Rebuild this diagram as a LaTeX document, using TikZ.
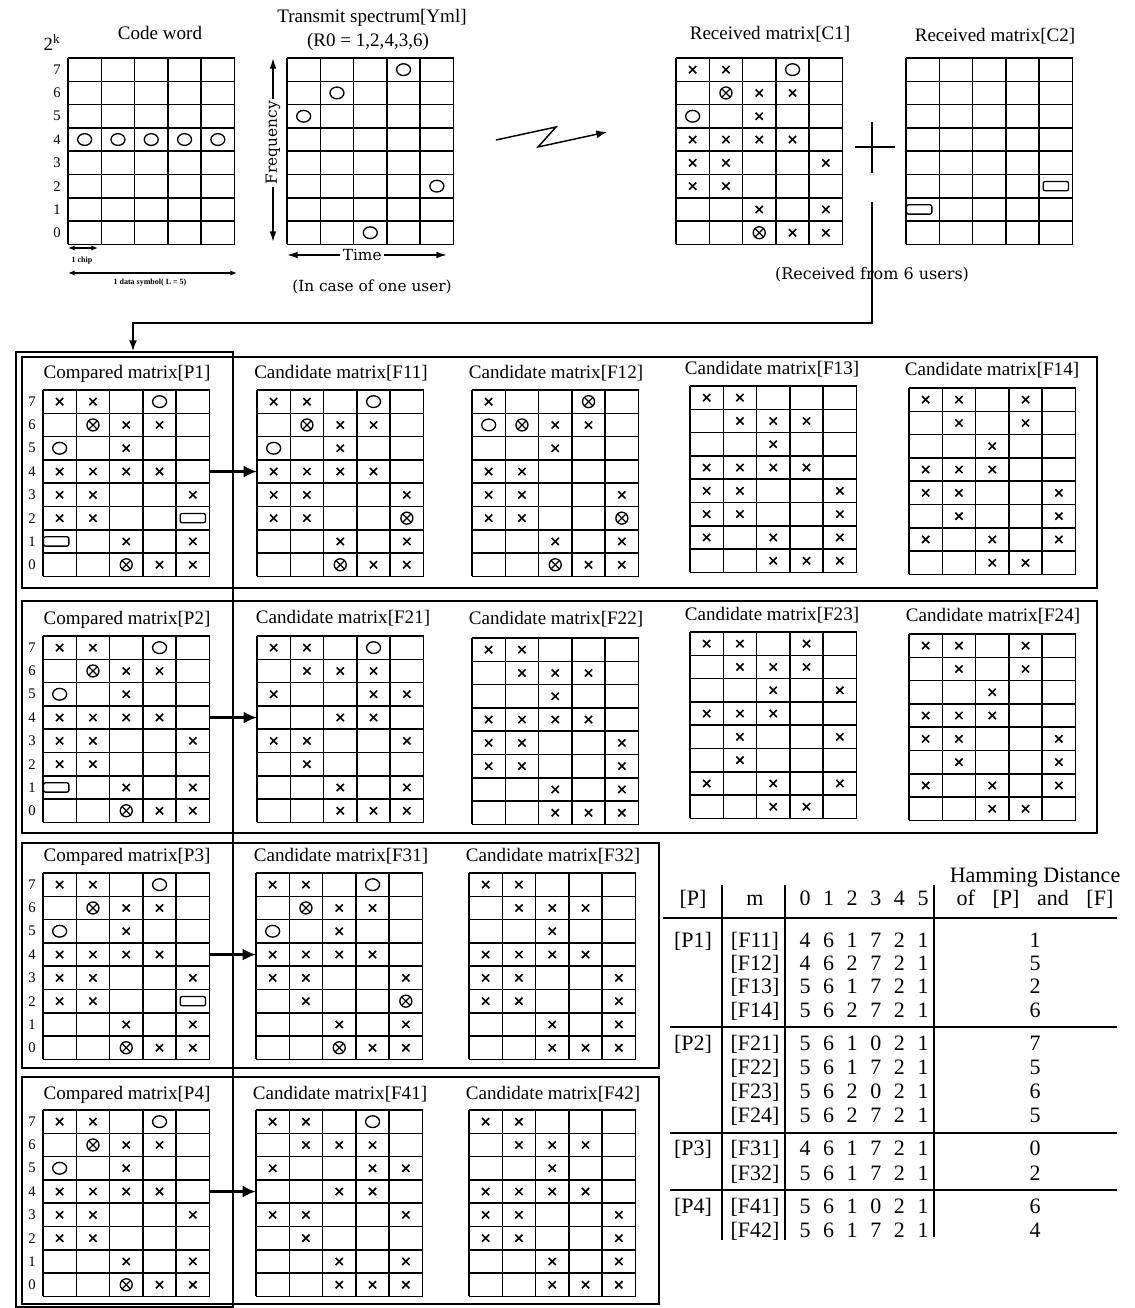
\documentclass[tikz,border=0pt]{standalone}
\usepackage{fontspec}
\setmainfont{Liberation Serif}
\newfontfamily\widefont{DejaVu Serif}
\usepackage{tikz}
\usetikzlibrary{
    arrows.meta,
    shapes.geometric,
    shapes.misc,
    positioning
}

\newcommand\cw{33.3}
\newcommand\ch{23.3}

% 5 x 8 chip matrix: name, x and y of top-left corner, mark rows (7 down to 0)
\newcommand\chipgrid[4]{%
  \begin{scope}[shift={(#2,#3)}]
    \foreach \i in {0,...,5} \draw[gridline] (\i*\cw,0) -- (\i*\cw,8*\ch);
    \foreach \j in {0,...,8} \draw[gridline] (0,\j*\ch) -- (5*\cw,\j*\ch);
    \foreach \rowmarks [count=\j] in {#4} {
      \foreach \m [count=\i] in \rowmarks
        \node[mk\m] (#1-\j-\i) at ({(\i-0.5)*\cw},{(\j-0.5)*\ch}) {};
    }
    \coordinate (#1-w) at (0,3.5*\ch);
    \coordinate (#1-e) at (5*\cw,3.5*\ch);
  \end{scope}
}
% frequency numbers 7..0 beside a matrix
\newcommand\chiplabels[3]{%
  \foreach \k in {0,...,7} \node[rowlbl] (#1-l\k) at (#2,{#3+(7.5-\k)*\ch}) {\k};
}
\def\spreaddig#1{\ifx\relax#1\else\makebox[17.7pt]{#1}\expandafter\spreaddig\fi}

\begin{document}
\begin{tikzpicture}[
    x=0.75pt, y=-0.75pt,
    gridline/.style={line width=1.1pt},
    rowbox/.style={line width=1pt},
    colbox/.style={line width=2.2pt},
    ttl/.style={font=\fontsize{14.3}{16}\selectfont, inner sep=0, text height=10pt, text depth=3pt},
    rowlbl/.style={font=\fontsize{11}{12}\selectfont, inner sep=0},
    note/.style={font=\widefont\fontsize{11.5}{13}\selectfont, inner sep=0},
    tiny/.style={font=\bfseries\fontsize{6}{7}\selectfont, inner sep=0},
    mkx/.style={draw, cross out, line width=1.2pt, minimum size=4.2pt, inner sep=0},
    mko/.style={draw, ellipse, line width=1pt, minimum width=10.5pt, minimum height=8.8pt, inner sep=0},
    mkg/.style={draw, circle, line width=1pt, minimum size=9pt, inner sep=0,
        path picture={\draw[line width=0.9pt]
          (path picture bounding box.north west) -- (path picture bounding box.south east)
          (path picture bounding box.north east) -- (path picture bounding box.south west);}},
    mkr/.style={draw, rounded corners=1.5pt, line width=1pt, minimum width=19pt, minimum height=7pt, inner sep=0},
    mkl/.style={mkr, xshift=-2.6pt},
    mkn/.style={inner sep=0},
    feed/.style={-{Latex[length=8pt, width=6pt]}, line width=1.1pt},
    pass/.style={-{Latex[length=10pt, width=9pt]}, line width=2.2pt},
    dbl/.style={{Latex[length=8pt, width=5pt]}-{Latex[length=8pt, width=5pt]}, line width=1.1pt},
    dblsmall/.style={{Latex[length=5pt, width=4pt]}-{Latex[length=5pt, width=4pt]}, line width=1pt},
    tbl/.style={font=\fontsize{16.5}{18}\selectfont, inner sep=0, text height=11pt, text depth=3.5pt},
    sep/.style={line width=1.2pt}
]
\useasboundingbox (0,0) rectangle (1134,1308);

% ==================== CODE WORD / TRANSMIT SPECTRUM ====================
\node[ttl] (cwt) at (160,35) {Code word};
\node[ttl] (txt) at (372,18) {Transmit spectrum[Yml]};
\node[ttl] (txr) at (368,42) {(R0 = 1,2,4,3,6)};
\node[font=\fontsize{14}{16}\selectfont, inner sep=0] (pow) at (52,42) {2\textsuperscript{k}};
\chiplabels{CW}{57}{58}
\chipgrid{CW}{68}{58}{{n,n,n,n,n},{n,n,n,n,n},{n,n,n,n,n},{o,o,o,o,o},{n,n,n,n,n},{n,n,n,n,n},{n,n,n,n,n},{n,n,n,n,n}}
\chipgrid{TX}{287}{58}{{n,n,n,o,n},{n,o,n,n,n},{o,n,n,n,n},{n,n,n,n,n},{n,n,n,n,n},{n,n,n,n,o},{n,n,n,n,n},{n,n,o,n,n}}

\draw[dblsmall] (68,248) -- (98,248);
\node[tiny] (chip) at (82,261) {1 chip};
\draw[dblsmall] (68,273) -- (237,273);
\node[tiny] (dsym) at (150,283) {1 data symbol( L = 5)};

\draw[dbl] (273,58) -- (273,242) node[pos=0.46, fill=white, rotate=90, note, inner sep=2pt] (freq) {Frequency};
\draw[dbl] (287,255) -- (447,255) node[pos=0.47, fill=white, note, inner sep=2pt] (time) {Time};
\node[note] (onecase) at (372,287) {(In case of one user)};

% radio link
\coordinate (zzs) at (496,140);
\coordinate (zze) at (607,132);
\draw[feed] (zzs) -- (556,127) -- (538,147) -- (zze);

% ==================== RECEIVED MATRICES ====================
\node[ttl] (c1t) at (770,35) {Received matrix[C1]};
\node[ttl] (c2t) at (995,37) {Received matrix[C2]};
\chipgrid{C1}{676}{58}{{x,x,n,o,n},{n,g,x,x,n},{o,n,x,n,n},{x,x,x,x,n},{x,x,n,n,x},{x,x,n,n,n},{n,n,x,n,x},{n,n,g,x,x}}
\chipgrid{C2}{906}{58}{{n,n,n,n,n},{n,n,n,n,n},{n,n,n,n,n},{n,n,n,n,n},{n,n,n,n,n},{n,n,n,n,r},{l,n,n,n,n},{n,n,n,n,n}}

\coordinate (plus) at (872,147);
\draw[line width=1pt] (plus) ++(-17,0) -- ++(40,0);
\draw[line width=1pt] (plus) ++(0,-25) -- ++(0,51);
\node[note, font=\widefont\fontsize{12}{14}\selectfont] (sixusers) at (872,275) {(Received from 6 users)};

\coordinate (fork) at (872,202);
\coordinate (turn) at (133,323);
\coordinate (Ptop) at (133,351);
\draw[feed] (fork) |- (turn) -- (Ptop);

% ==================== FRAMES ====================
\draw[colbox] (16,352) rectangle (233,1307);
\draw[rowbox] (22,357) rectangle (1097,588);
\draw[rowbox] (22,601) rectangle (1097,833);
\draw[rowbox] (22,843) rectangle (659,1068);
\draw[rowbox] (22,1077) rectangle (659,1304);

% ==================== ROW 1 ====================
\node[ttl] (p1t) at (127,374) {Compared matrix[P1]};
\node[ttl] (f11t) at (341,374) {Candidate matrix[F11]};
\node[ttl] (f12t) at (556,374) {Candidate matrix[F12]};
\node[ttl] (f13t) at (772,370) {Candidate matrix[F13]};
\node[ttl] (f14t) at (992,371) {Candidate matrix[F14]};
\chiplabels{P1}{32}{390}
\chipgrid{P1}{43}{390}{{x,x,n,o,n},{n,g,x,x,n},{o,n,x,n,n},{x,x,x,x,n},{x,x,n,n,x},{x,x,n,n,r},{l,n,x,n,x},{n,n,g,x,x}}
\chipgrid{F11}{257}{390}{{x,x,n,o,n},{n,g,x,x,n},{o,n,x,n,n},{x,x,x,x,n},{x,x,n,n,x},{x,x,n,n,g},{n,n,x,n,x},{n,n,g,x,x}}
\chipgrid{F12}{472}{390}{{x,n,n,g,n},{o,g,x,x,n},{n,n,x,n,n},{x,x,n,n,n},{x,x,n,n,x},{x,x,n,n,g},{n,n,x,n,x},{n,n,g,x,x}}
\chipgrid{F13}{690}{386}{{x,x,n,n,n},{n,x,x,x,n},{n,n,x,n,n},{x,x,x,x,n},{x,x,n,n,x},{x,x,n,n,x},{x,n,x,n,x},{n,n,x,x,x}}
\chipgrid{F14}{909}{388}{{x,x,n,x,n},{n,x,n,x,n},{n,n,x,n,n},{x,x,x,n,n},{x,x,n,n,x},{n,x,n,n,x},{x,n,x,n,x},{n,n,x,x,n}}
\draw[pass] (P1-e) -- (F11-w);

% ==================== ROW 2 ====================
\node[ttl] (p2t) at (127,620) {Compared matrix[P2]};
\node[ttl] (f21t) at (343,619) {Candidate matrix[F21]};
\node[ttl] (f22t) at (556,620) {Candidate matrix[F22]};
\node[ttl] (f23t) at (772,616) {Candidate matrix[F23]};
\node[ttl] (f24t) at (993,617) {Candidate matrix[F24]};
\chiplabels{P2}{32}{636}
\chipgrid{P2}{43}{636}{{x,x,n,o,n},{n,g,x,x,n},{o,n,x,n,n},{x,x,x,x,n},{x,x,n,n,x},{x,x,n,n,n},{l,n,x,n,x},{n,n,g,x,x}}
\chipgrid{F21}{257}{636}{{x,x,n,o,n},{n,x,x,x,n},{x,n,n,x,x},{n,n,x,x,n},{x,x,n,n,x},{n,x,n,n,n},{n,n,x,n,x},{n,n,x,x,x}}
\chipgrid{F22}{472}{638}{{x,x,n,n,n},{n,x,x,x,n},{n,n,x,n,n},{x,x,x,x,n},{x,x,n,n,x},{x,x,n,n,x},{n,n,x,n,x},{n,n,x,x,x}}
\chipgrid{F23}{690}{632}{{x,x,n,x,n},{n,x,x,x,n},{n,n,x,n,x},{x,x,x,n,n},{n,x,n,n,x},{n,x,n,n,n},{x,n,x,n,x},{n,n,x,x,n}}
\chipgrid{F24}{909}{634}{{x,x,n,x,n},{n,x,n,x,n},{n,n,x,n,n},{x,x,x,n,n},{x,x,n,n,x},{n,x,n,n,x},{x,n,x,n,x},{n,n,x,x,n}}
\draw[pass] (P2-e) -- (F21-w);

% ==================== ROW 3 ====================
\node[ttl] (p3t) at (127,857) {Compared matrix[P3]};
\node[ttl] (f31t) at (341,857) {Candidate matrix[F31]};
\node[ttl] (f32t) at (553,857) {Candidate matrix[F32]};
\chiplabels{P3}{32}{873}
\chipgrid{P3}{43}{873}{{x,x,n,o,n},{n,g,x,x,n},{o,n,x,n,n},{x,x,x,x,n},{x,x,n,n,x},{x,x,n,n,r},{n,n,x,n,x},{n,n,g,x,x}}
\chipgrid{F31}{256}{873}{{x,x,n,o,n},{n,g,x,x,n},{o,n,x,n,n},{x,x,x,x,n},{x,x,n,n,x},{n,x,n,n,g},{n,n,x,n,x},{n,n,g,x,x}}
\chipgrid{F32}{469}{873}{{x,x,n,n,n},{n,x,x,x,n},{n,n,x,n,n},{x,x,x,x,n},{x,x,n,n,x},{x,x,n,n,x},{n,n,x,n,x},{n,n,x,x,x}}
\draw[pass] (P3-e) -- (F31-w);

% ==================== ROW 4 ====================
\node[ttl] (p4t) at (127,1095) {Compared matrix[P4]};
\node[ttl] (f41t) at (340,1095) {Candidate matrix[F41]};
\node[ttl] (f42t) at (553,1095) {Candidate matrix[F42]};
\chiplabels{P4}{32}{1110}
\chipgrid{P4}{43}{1110}{{x,x,n,o,n},{n,g,x,x,n},{o,n,x,n,n},{x,x,x,x,n},{x,x,n,n,x},{x,x,n,n,n},{n,n,x,n,x},{n,n,g,x,x}}
\chipgrid{F41}{256}{1110}{{x,x,n,o,n},{n,x,x,x,n},{x,n,n,x,x},{n,n,x,x,n},{x,x,n,n,x},{n,x,n,n,n},{n,n,x,n,x},{n,n,x,x,x}}
\chipgrid{F42}{469}{1110}{{x,x,n,n,n},{n,x,x,x,n},{n,n,x,n,n},{x,x,x,x,n},{x,x,n,n,x},{x,x,n,n,x},{n,n,x,n,x},{n,n,x,x,x}}
\draw[pass] (P4-e) -- (F41-w);

% ==================== HAMMING DISTANCE TABLE ====================
\node[tbl] (hP) at (693,900) {[P]};
\node[tbl] (hm) at (755,900) {m};
\node[tbl] (hdig) at (864,900) {\spreaddig 012345\relax};
\node[tbl] (hH1) at (1035,877) {Hamming Distance};
\node[tbl] (hH2) at (1035,900) {of\hspace{0.8em}[P]\hspace{0.8em}and\hspace{0.8em}[F]};
\foreach \pn/\yy in {P1/942, P2/1045, P3/1150, P4/1208}
  \node[tbl] (g-\pn) at (693,\yy) {[\pn]};
\foreach \fn/\ds/\hd/\yy in {F11/461721/1/942, F12/462721/5/965, F13/561721/2/988, F14/562721/6/1012,
    F21/561021/7/1045, F22/561721/5/1069, F23/562021/6/1093, F24/562721/5/1117,
    F31/461721/0/1150, F32/561721/2/1175, F41/561021/6/1208, F42/561721/4/1232} {
  \node[tbl] (m-\fn) at (755,\yy) {[\fn]};
  \node[tbl] (d-\fn) at (864,\yy) {\expandafter\spreaddig\ds\relax};
  \node[tbl] (h-\fn) at (1035,\yy) {\hd};
}
\draw[line width=2pt] (663,918) -- (1117,918);
\foreach \yy in {1027,1133,1190} \draw[sep] (670,\yy) -- (1117,\yy);
\draw[sep] (722,885) -- (722,1240);
\draw[sep] (785,885) -- (785,1240);
\draw[sep] (934,885) -- (934,1237);

\end{tikzpicture}
\end{document}
